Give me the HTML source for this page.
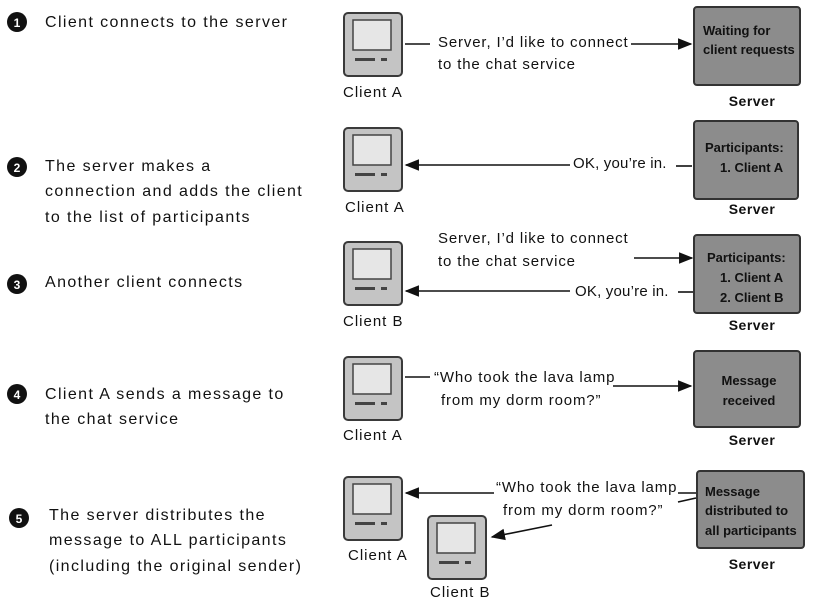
<!DOCTYPE html>
<html><head><meta charset="utf-8"><style>
html,body{margin:0;padding:0;background:#fff}
svg{display:block}
.h{font-family:"Liberation Sans",sans-serif;font-size:16px;fill:#111;letter-spacing:1.4px}
.s{font-family:"Liberation Sans",sans-serif;font-size:15px;fill:#111;letter-spacing:0.85px}
.o{font-family:"Liberation Sans",sans-serif;font-size:15px;fill:#111;letter-spacing:0.2px}
.c{font-family:"Liberation Sans",sans-serif;font-size:15px;fill:#111;letter-spacing:1px}
.b{font-family:"Liberation Sans",sans-serif;font-size:13px;font-weight:bold;fill:#111}
.v{font-family:"Liberation Sans",sans-serif;font-size:14px;font-weight:bold;fill:#111;letter-spacing:0.5px}
.n{font-family:"Liberation Sans",sans-serif;font-size:12px;font-weight:bold;fill:#fff}
</style></head><body>
<svg width="819" height="601" viewBox="0 0 819 601" xmlns="http://www.w3.org/2000/svg">
<defs>
<g id="pc">
<rect x="1" y="1" width="58" height="63" rx="4" fill="#c4c4c4" stroke="#3a3a3a" stroke-width="2"/>
<rect x="10" y="8" width="38" height="30" fill="#e6e6e6" stroke="#444" stroke-width="1.5"/>
<rect x="12" y="46" width="20" height="3" fill="#444"/>
<rect x="38" y="46" width="6" height="3" fill="#444"/>
</g>
<marker id="ar" viewBox="0 0 10 10" refX="9" refY="5" markerWidth="9" markerHeight="9" orient="auto"><path d="M0,1 L10,5 L0,9 z" fill="#111"/></marker>
</defs>
<g>
<circle cx="17" cy="22" r="10" fill="#111"/><text class="n" x="17" y="27" text-anchor="middle">1</text>
<text class="h" x="45" y="27">Client connects to the server</text>
<circle cx="17" cy="167" r="10" fill="#111"/><text class="n" x="17" y="172" text-anchor="middle">2</text>
<text class="h" x="45" y="171">The server makes a</text>
<text class="h" x="45" y="196">connection and adds the client</text>
<text class="h" x="45" y="222">to the list of participants</text>
<circle cx="17" cy="284" r="10" fill="#111"/><text class="n" x="17" y="289" text-anchor="middle">3</text>
<text class="h" x="45" y="287">Another client connects</text>
<circle cx="17" cy="394" r="10" fill="#111"/><text class="n" x="17" y="399" text-anchor="middle">4</text>
<text class="h" x="45" y="399">Client A sends a message to</text>
<text class="h" x="45" y="424">the chat service</text>
<circle cx="19" cy="518" r="10" fill="#111"/><text class="n" x="19" y="523" text-anchor="middle">5</text>
<text class="h" x="49" y="520">The server distributes the</text>
<text class="h" x="49" y="545">message to ALL participants</text>
<text class="h" x="49" y="571">(including the original sender)</text>
</g>
<use href="#pc" x="343" y="12"/><text class="c" x="343" y="97">Client A</text>
<use href="#pc" x="343" y="127"/><text class="c" x="345" y="212">Client A</text>
<use href="#pc" x="343" y="241"/><text class="c" x="343" y="326">Client B</text>
<use href="#pc" x="343" y="356"/><text class="c" x="343" y="440">Client A</text>
<use href="#pc" x="343" y="476"/><text class="c" x="348" y="560">Client A</text>
<use href="#pc" x="427" y="515"/><text class="c" x="430" y="597">Client B</text>
<g fill="#8c8c8c" stroke="#333" stroke-width="2">
<rect x="694" y="7" width="106" height="78" rx="3"/>
<rect x="694" y="121" width="104" height="78" rx="3"/>
<rect x="694" y="235" width="106" height="78" rx="3"/>
<rect x="694" y="351" width="106" height="76" rx="3"/>
<rect x="697" y="471" width="107" height="77" rx="3"/>
</g>
<text class="b" x="703" y="35">Waiting for</text><text class="b" x="703" y="54">client requests</text>
<text class="v" x="752" y="106" text-anchor="middle">Server</text>
<text class="b" x="705" y="152">Participants:</text><text class="b" x="720" y="172">1. Client A</text>
<text class="v" x="752" y="214" text-anchor="middle">Server</text>
<text class="b" x="707" y="262">Participants:</text><text class="b" x="720" y="282">1. Client A</text><text class="b" x="720" y="302">2. Client B</text>
<text class="v" x="752" y="330" text-anchor="middle">Server</text>
<text class="b" x="749" y="385" text-anchor="middle">Message</text><text class="b" x="749" y="405" text-anchor="middle">received</text>
<text class="v" x="752" y="445" text-anchor="middle">Server</text>
<text class="b" x="705" y="496">Message</text><text class="b" x="705" y="515">distributed to</text><text class="b" x="705" y="535">all participants</text>
<text class="v" x="752" y="569" text-anchor="middle">Server</text>
<g stroke="#111" stroke-width="1.6" fill="none">
<line x1="405" y1="44" x2="430" y2="44"/>
<line x1="631" y1="44" x2="691" y2="44" marker-end="url(#ar)"/>
<line x1="570" y1="165" x2="406" y2="165" marker-end="url(#ar)"/>
<line x1="676" y1="166" x2="692" y2="166"/>
<line x1="634" y1="258" x2="692" y2="258" marker-end="url(#ar)"/>
<line x1="570" y1="291" x2="406" y2="291" marker-end="url(#ar)"/>
<line x1="678" y1="292" x2="693" y2="292"/>
<line x1="405" y1="377" x2="430" y2="377"/>
<line x1="613" y1="386" x2="691" y2="386" marker-end="url(#ar)"/>
<line x1="494" y1="493" x2="406" y2="493" marker-end="url(#ar)"/>
<line x1="678" y1="493" x2="696" y2="493"/>
<line x1="678" y1="502" x2="696" y2="498"/>
<line x1="552" y1="525" x2="492" y2="537" marker-end="url(#ar)"/>
</g>
<text class="s" x="438" y="47">Server, I’d like to connect</text>
<text class="s" x="438" y="69">to the chat service</text>
<text class="o" x="573" y="168">OK, you’re in.</text>
<text class="s" x="438" y="243">Server, I’d like to connect</text>
<text class="s" x="438" y="266">to the chat service</text>
<text class="o" x="575" y="296">OK, you’re in.</text>
<text class="s" x="434" y="382">“Who took the lava lamp</text>
<text class="s" x="441" y="405">from my dorm room?”</text>
<text class="s" x="496" y="492">“Who took the lava lamp</text>
<text class="s" x="503" y="515">from my dorm room?”</text>
</svg>
</body></html>
